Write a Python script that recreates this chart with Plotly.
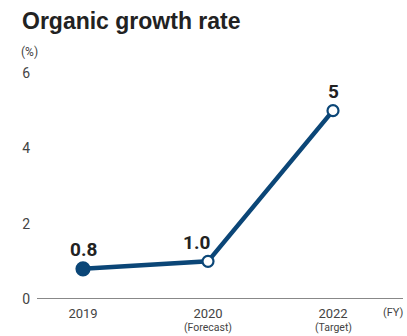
import plotly.graph_objects as go

years = ["2019", "2020", "2022"]
sublabels = ["", "(Forecast)", "(Target)"]
values = [0.8, 1.0, 5]
value_text = ["0.8", "1.0", "5"]
y_ticks = [0, 2, 4, 6]

NAVY = "#0b4677"
xs = list(range(len(years)))

fig = go.Figure()
fig.add_trace(go.Scatter(
    x=xs, y=values, mode="lines+markers",
    line=dict(color=NAVY, width=4.5),
    marker=dict(size=[13, 11, 11], opacity=1,
                color=[NAVY, "white", "white"],
                line=dict(color=NAVY, width=2.2)),
    cliponaxis=False, hoverinfo="skip",
))

label_xshift = [0, -12, 0]
for x, v, t, dx in zip(xs, values, value_text, label_xshift):
    fig.add_annotation(x=x, y=v, text=t, showarrow=False, xshift=dx, yshift=19,
                       font=dict(family="Roboto, Arial", size=19,
                                 color="#222222", weight="bold"))

for x, s in zip(xs, sublabels):
    if s:
        fig.add_annotation(x=x, xref="x", yref="paper", y=-28/226, text=s,
                           showarrow=False, yanchor="middle",
                           font=dict(family="Roboto, Arial", size=10.5, color="#444444"))

fig.update_layout(
    width=407, height=336,
    margin=dict(l=37, r=4, t=73, b=37),
    paper_bgcolor="white", plot_bgcolor="white",
    showlegend=False,
    font=dict(family="Roboto, Arial", color="#444444"),
    xaxis=dict(range=[-0.368, 2.56], tickvals=xs, ticktext=years, automargin=False,
               showgrid=False, zeroline=False, showline=False,
               ticks="", tickfont=dict(size=13, color="#444444"), ticklabelstandoff=5),
    yaxis=dict(range=[0, 6], tickvals=y_ticks, showgrid=False, zeroline=False, automargin=False,
               showline=False, ticks="", tickfont=dict(size=14, color="#444444"),
               ticklabelstandoff=6),
    shapes=[dict(type="line", xref="paper", yref="y", x0=0, x1=1, y0=0, y1=0,
                 line=dict(color="#888888", width=2), layer="below")],
)

fig.add_annotation(xref="paper", yref="paper", x=-17/366, y=1 + 52/226,
                   xanchor="left", yanchor="middle", showarrow=False,
                   text="Organic growth rate",
                   font=dict(family="Liberation Sans, Arial", size=23, color="#222222", weight="bold"))
fig.add_annotation(xref="paper", yref="paper", x=-18/366, y=1 + 21/226,
                   xanchor="left", yanchor="middle", showarrow=False,
                   text="(%)", font=dict(size=12, color="#444444"))
fig.add_annotation(xref="paper", yref="paper", x=1.0 + 3/366, y=-13/226,
                   xanchor="right", yanchor="middle", showarrow=False,
                   text="(FY)", font=dict(size=11, color="#444444"))

fig.write_html("out.html", config={"displayModeBar": False},
               post_script="document.body.style.margin='0';document.body.style.overflow='hidden';")
